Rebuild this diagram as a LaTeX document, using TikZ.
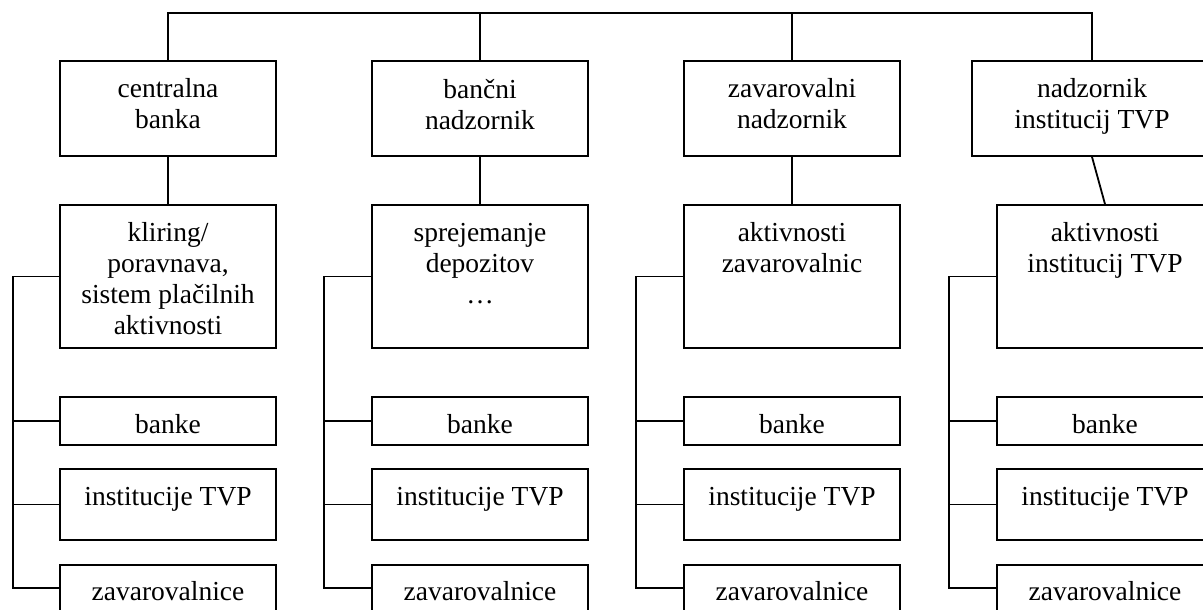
\documentclass[tikz,border=0pt]{standalone}
\usepackage{fontspec}
\setmainfont{Liberation Serif}
\begin{document}
\begin{tikzpicture}[x=1pt,y=-1pt,line width=1.8pt,
  box/.style={draw,rectangle,inner sep=0pt,line width=1.8pt},
  txt/.style={anchor=north,inner sep=0pt,align=center,
    font=\fontsize{27.5}{31}\selectfont}]
\clip (0,0) rectangle (1203,610);
% box given by its left/top/right/bottom edges
\newcommand\boxat[5]{%
  \pgfmathsetmacro\bw{(#4)-(#2)}%
  \pgfmathsetmacro\bh{(#5)-(#3)}%
  \pgfmathsetmacro\bx{((#2)+(#4))/2}%
  \pgfmathsetmacro\by{((#3)+(#5))/2}%
  \node[box,minimum width=\bw pt,minimum height=\bh pt] (#1) at (\bx,\by) {};}
% x of the side bus of each column
\foreach \c/\b in {1/13, 2/324, 3/636, 4/949}{
  \coordinate (bus\c) at (\b,0);
}
\coordinate (bar) at (0,13);

% supervisors
\boxat{t1}{60}{61}{276}{156}
\boxat{t2}{372}{61}{588}{156}
\boxat{t3}{684}{61}{900}{156}
\boxat{t4}{972}{61}{1212}{156}
% activities
\boxat{s1}{60}{205}{276}{348}
\boxat{s2}{372}{205}{588}{348}
\boxat{s3}{684}{205}{900}{348}
\boxat{s4}{997}{205}{1213}{348}
% institutions
\foreach \c/\l in {1/60, 2/372, 3/684, 4/997}{
  \boxat{b\c}{\l}{397}{\l+216}{445}
  \boxat{i\c}{\l}{469}{\l+216}{540}
  \boxat{z\c}{\l}{565}{\l+216}{611}
}

% texts
\node[txt] (t1x) at (t1.north |- 0,78) {centralna\\banka};
\node[txt] (t2x) at (t2.north |- 0,78) {bančni\\nadzornik};
\node[txt] (t3x) at (t3.north |- 0,78) {zavarovalni\\nadzornik};
\node[txt] (t4x) at (t4.north |- 0,78) {nadzornik\\institucij TVP};
\node[txt] (s1x) at (s1.north |- 0,222) {kliring/\\poravnava,\\sistem plačilnih\\aktivnosti};
\node[txt] (s2x) at (s2.north |- 0,222) {sprejemanje\\depozitov\\…};
\node[txt] (s3x) at (s3.north |- 0,222) {aktivnosti\\zavarovalnic};
\node[txt] (s4x) at (s4.north |- 0,222) {aktivnosti\\institucij TVP};
\foreach \c in {1,2,3,4}{
  \node[txt] (b\c x) at (b\c.north |- 0,414) {banke};
  \node[txt] (i\c x) at (i\c.north |- 0,486) {institucije TVP};
  \node[txt] (z\c x) at (z\c.north |- 0,581) {zavarovalnice};
}

% top bar
\draw (t1.north) -- (t1.north |- bar) -- (t4.north |- bar) -- (t4.north);
\draw (t2.north) -- (t2.north |- bar);
\draw (t3.north) -- (t3.north |- bar);
% supervisor to activity, and the side bus of each column
\foreach \c in {1,2,3,4}{
  \draw (t\c.south) -- (s\c.north);
  \draw (s\c.west) -- (s\c.west -| bus\c) -- (z\c.west -| bus\c) -- (z\c.west);
  \draw (b\c.west) -- (b\c.west -| bus\c);
  \draw (i\c.west) -- (i\c.west -| bus\c);
}
\end{tikzpicture}
\end{document}
